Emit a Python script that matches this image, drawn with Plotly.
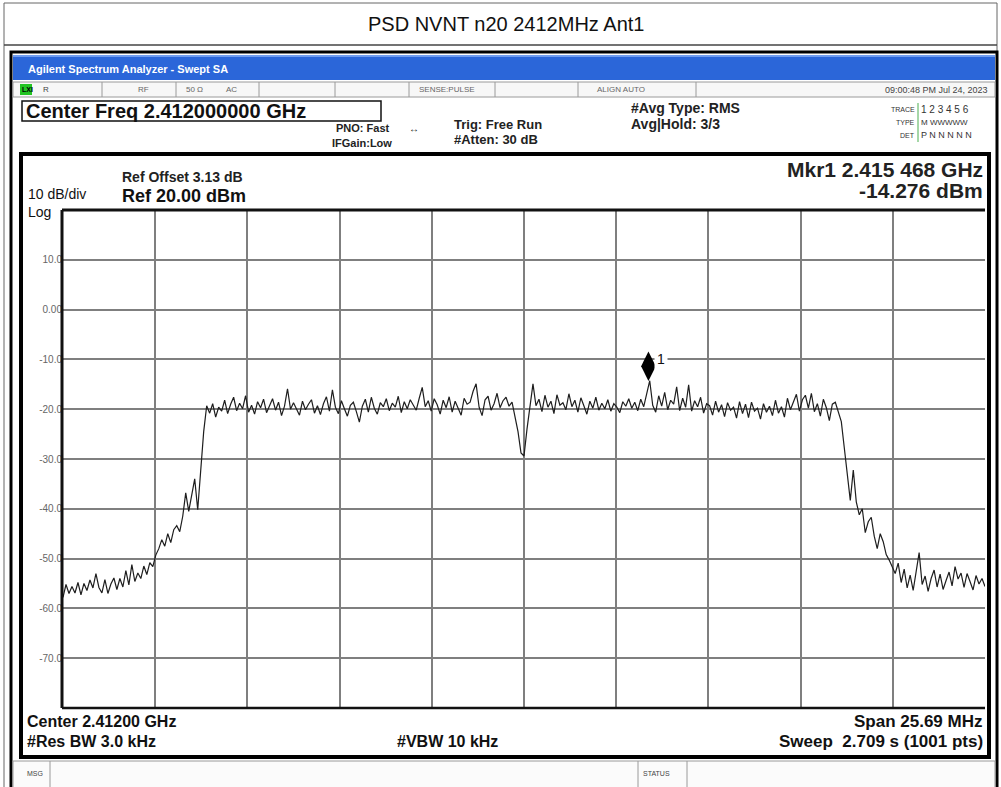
import numpy as np
import plotly.graph_objects as go

W, H = 1001, 787
FONT = "Liberation Sans, Arial, sans-serif"

# ---------------- data ----------------
title_text = "PSD NVNT n20 2412MHz Ant1"
center_ghz = 2.412
span_mhz = 25.69

# trace (dBm), read left to right across the sweep
skirt_left = [-57.8, -55.2, -57.0, -55.6, -56.9, -54.8, -57.3, -55.0, -56.4, -54.3,
              -55.9, -53.0, -55.8, -56.9, -54.2, -57.0, -55.1, -53.9, -56.2, -54.0,
              -55.7, -52.4, -55.3, -51.2, -54.6, -52.9, -54.0, -51.5, -53.2, -50.8]
rise_left = [-51.6, -49.3, -48.0, -46.2, -47.5, -45.0, -46.8, -44.2, -43.4, -44.6,
             -41.5, -36.8, -40.5, -37.5, -34.0, -40.2, -31.5, -24.5]
in_band = [-19.3, -20.8, -18.9, -21.6, -19.6, -20.4, -18.2, -20.9, -19.0, -17.6,
           -20.3, -18.8, -19.9, -17.3, -20.6, -19.2, -21.0, -18.5, -19.7, -18.0,
           -20.7, -19.1, -17.9, -20.2, -18.6, -21.3, -19.4, -15.9, -20.0, -18.7,
           -19.8, -21.2, -18.4, -20.1, -19.0, -18.1, -20.8, -19.3, -21.1, -18.9,
           -17.5, -20.4, -16.1, -19.6, -20.9, -18.3, -19.9, -21.4, -19.2, -18.6,
           -20.5, -22.6, -19.4, -18.0, -20.6, -17.6, -19.8, -21.0, -18.7, -19.5,
           -17.9, -20.3, -18.8, -19.6, -17.4, -20.7, -18.5, -19.9, -18.1, -19.3,
           -20.2, -17.8, -15.6, -19.5, -18.3, -20.4, -17.9, -19.1, -21.0, -18.2,
           -19.7, -17.5, -20.6, -18.4, -19.8, -21.2, -17.8, -19.0, -18.6, -16.4,
           -14.9, -19.6, -21.3, -18.1, -17.4, -20.2, -18.9, -16.8, -19.7, -18.3,
           -17.6, -19.4, -18.6, -21.5, -24.5, -28.8, -29.4, -24.0, -19.8, -14.9,
           -19.3, -18.0, -20.5, -17.2, -19.6, -18.4, -20.9, -17.1, -19.2, -18.7,
           -20.1, -16.9, -19.5, -18.2, -20.6, -17.7, -19.3, -21.0, -18.4, -19.8,
           -17.6, -20.2, -18.8, -19.9, -18.1, -20.4, -18.9, -19.6, -20.7, -18.5,
           -19.4, -17.9, -19.8, -18.6, -20.3, -18.0, -19.5, -17.1, -14.28, -19.2,
           -20.6, -17.3, -19.4, -16.6, -20.1, -18.2, -19.0, -15.5, -20.3, -17.8,
           -19.6, -15.1, -20.4, -18.3, -19.5, -17.6, -20.8, -18.9, -19.3, -21.2,
           -18.4, -20.6, -19.1, -21.5, -18.7, -20.2, -19.6, -21.8, -18.5, -20.9,
           -19.0, -21.7, -18.6, -20.4, -19.8, -22.0, -18.9, -20.6, -19.4, -21.3,
           -18.2, -20.8, -19.5, -21.6, -17.8, -20.1, -18.6, -17.0, -20.4, -18.1,
           -17.2, -19.8, -16.8, -20.5, -18.9, -21.4, -18.0, -19.7, -22.3, -19.0,
           -18.6, -20.5]
fall_right = [-22.5, -27.8, -33.0, -38.3, -32.2, -38.6, -41.2, -40.0, -44.8, -42.6,
              -41.7, -45.5, -48.0, -45.0, -46.6, -49.2, -50.3, -51.8]
skirt_right = [-53.0, -50.9, -54.8, -52.1, -55.9, -53.3, -56.4, -52.6, -48.8, -55.2,
               -53.5, -56.6, -54.0, -52.3, -55.7, -53.1, -56.2, -54.4, -52.7, -55.5,
               -51.6, -54.1, -52.9, -55.8, -53.0, -54.6, -56.3, -53.4, -55.1, -54.0,
               -55.6]

mkr_freq_ghz = 2.415468
mkr_dbm = -14.276

y_tick_vals = [10, 0, -10, -20, -30, -40, -50, -60, -70]
y_tick_text = ["10.0", "0.00", "-10.0", "-20.0", "-30.0", "-40.0", "-50.0", "-60.0", "-70.0"]
ref_level = 20.0
db_per_div = 10

trace_dbm = skirt_left + rise_left + in_band + fall_right + skirt_right
f_start = center_ghz - span_mhz / 2000.0
f_stop = center_ghz + span_mhz / 2000.0
freq = np.linspace(f_start, f_stop, len(trace_dbm))

# ---------------- geometry helpers (pixels) ----------------
PL, PR, PT, PB = 63, 985, 210, 708

def px(x):
    return x / W

def py(y):
    return 1 - y / H

shapes = []
annotations = []

def rect(x0, y0, x1, y1, line="#000", width=1, fill=None, layer="above"):
    d = dict(type="rect", xref="paper", yref="paper", x0=px(x0), x1=px(x1),
             y0=py(y0), y1=py(y1), layer=layer,
             line=dict(color=line, width=width) if width else dict(width=0))
    if fill:
        d["fillcolor"] = fill
    shapes.append(d)

def line(x0, y0, x1, y1, color="#000", width=1):
    shapes.append(dict(type="line", xref="paper", yref="paper", x0=px(x0), x1=px(x1),
                       y0=py(y0), y1=py(y1), line=dict(color=color, width=width)))

def text(t, x, y, size, bold=True, color="#111", xanchor="left", family=FONT, bg=None):
    a = dict(text=f"<b>{t}</b>" if bold else t, x=px(x), y=py(y), xref="paper",
             yref="paper", xanchor=xanchor, yanchor="middle", showarrow=False,
             font=dict(size=size, color=color, family=family), borderpad=0,
             align="left")
    if bg:
        a["bgcolor"] = bg
    annotations.append(a)

# outer table
line(4, 3, 997, 3, "#666", 1)
line(4, 3, 4, 787, "#666", 1)
line(997, 3, 997, 787, "#666", 1)
line(4, 45, 997, 45, "#444", 1.5)
text(title_text, 506, 24, 20, bold=False, color="#111", xanchor="center")

# analyzer window
rect(11, 52, 997, 790, "#000", 3)
rect(13, 55, 995, 80, width=0, fill="#2b66d9")
line(13, 56, 995, 56, "#6f9cf0", 2)
text("Agilent Spectrum Analyzer - Swept SA", 27, 69, 11, color="#ffffff")

# status row
rect(13, 82, 995, 97, "#9a9a9a", 1, fill="#f7f7f7")
for xd in [102, 176, 259, 335, 409, 495, 578, 696]:
    line(xd, 82, xd, 97, "#9a9a9a", 1)
rect(20, 84, 32, 95, width=0, fill="#22c422")
text("LXI", 21, 89.5, 7, color="#000")
text("R", 42, 89.5, 8, bold=False, color="#444")
text("RF", 137, 89.5, 8, bold=False, color="#666")
text("50 Ω", 185, 89.5, 8, bold=False, color="#666")
text("AC", 225, 89.5, 8, bold=False, color="#666")
text("SENSE:PULSE", 418, 89.5, 8, bold=False, color="#666")
text("ALIGN AUTO", 596, 89.5, 8, bold=False, color="#666")
text("09:00:48 PM Jul 24, 2023", 989, 89.5, 9, bold=False, color="#444", xanchor="right")

# header
rect(22, 101, 381, 121, "#111", 1.5)
text("Center Freq 2.412000000 GHz", 25, 111, 20, color="#111")
text("PNO: Fast", 335, 128, 11, color="#222")
text("↔", 408, 128, 10, bold=False, color="#222")
text("IFGain:Low", 331, 143, 11, color="#222")
text("Trig: Free Run", 453, 124, 13, color="#222")
text("#Atten: 30 dB", 453, 140, 13, color="#222")
text("#Avg Type: RMS", 630, 108, 14, color="#222")
text("Avg|Hold: 3/3", 630, 124, 14, color="#222")
text("TRACE", 916, 109, 7, bold=False, color="#333", xanchor="right")
text("TYPE", 916, 122, 7, bold=False, color="#333", xanchor="right")
text("DET", 916, 135, 7, bold=False, color="#333", xanchor="right")
line(918, 103, 918, 142, "#4caf50", 1)
text("1 2 3 4 5 6", 920, 109, 10, bold=False, color="#333")
text("M WWWWW", 920, 122, 8, bold=False, color="#333")
text("P N N N N N", 920, 135, 9, bold=False, color="#333")

# graph frame
rect(21, 154, 989, 757, "#000", 4)
text("Ref Offset 3.13 dB", 121, 177, 14, color="#222")
text("Ref 20.00 dBm", 121, 196, 18, color="#111")
text("10 dB/div<br>Log", 27, 203, 14, bold=False, color="#111")
text("Mkr1 2.415 468 GHz", 984, 169, 21, color="#222", xanchor="right")
text("-14.276 dBm", 984, 190, 21, color="#222", xanchor="right")

# plot border
line(PL - 1, PT, PR, PT, "#111", 3)
line(PL - 1, PT, PL - 1, PB, "#111", 3)
line(PL - 1, PB, PR, PB, "#111", 2.5)

# footer text
text("Center 2.41200 GHz", 26, 721, 16, color="#111")
text("#Res BW 3.0 kHz", 26, 741, 16, color="#111")
text("#VBW 10 kHz", 396, 741, 16, color="#111")
text("Span 25.69 MHz", 984, 721, 17, color="#111", xanchor="right")
text("Sweep  2.709 s (1001 pts)", 984, 741, 17, color="#111", xanchor="right")

# message bar
rect(13, 761, 995, 790, "#9a9a9a", 1, fill="#fbfbfb")
line(50, 761, 50, 787, "#9a9a9a", 1)
line(638, 761, 638, 787, "#9a9a9a", 1)
line(687, 761, 687, 787, "#9a9a9a", 1)
text("MSG", 26, 773, 7, bold=False, color="#444")
text("STATUS", 642, 773, 7, bold=False, color="#444")

# marker label "1"
annotations.append(dict(text="1", x=mkr_freq_ghz, y=-10, xref="x", yref="y",
                        xanchor="left", yanchor="middle", xshift=6, showarrow=False,
                        font=dict(size=14, color="#111", family=FONT),
                        bgcolor="#ffffff", borderpad=2))

fig = go.Figure()
fig.add_trace(go.Scatter(x=freq, y=trace_dbm, mode="lines",
                         line=dict(color="#1e1e1e", width=1.2), hoverinfo="skip"))
fig.add_trace(go.Scatter(x=[mkr_freq_ghz], y=[mkr_dbm + 2.9], mode="markers",
                         marker=dict(symbol="diamond-tall", size=21, color="#000"),
                         hoverinfo="skip"))

fig.update_layout(
    width=W, height=H, autosize=False,
    margin=dict(l=0, r=0, t=0, b=0),
    paper_bgcolor="#ffffff", plot_bgcolor="#ffffff",
    showlegend=False,
    shapes=shapes, annotations=annotations,
    xaxis=dict(domain=[px(PL), px(PR)], range=[f_start, f_stop],
               tick0=f_start, dtick=(f_stop - f_start) / 10,
               showgrid=True, gridcolor="#7f7f7f", gridwidth=1.7,
               showticklabels=False, ticks="", zeroline=False, showline=False,
               fixedrange=True),
    yaxis=dict(domain=[py(PB), py(PT)], range=[ref_level - 10 * db_per_div, ref_level],
               tickvals=y_tick_vals, ticktext=y_tick_text,
               showgrid=True, gridcolor="#7f7f7f", gridwidth=1.7,
               tickfont=dict(size=10, color="#666", family=FONT),
               ticks="", zeroline=False, showline=False, fixedrange=True),
)

fig.write_html("out.html", config={"displayModeBar": False},
               post_script="document.body.style.margin='0px';document.body.style.overflow='hidden';")
